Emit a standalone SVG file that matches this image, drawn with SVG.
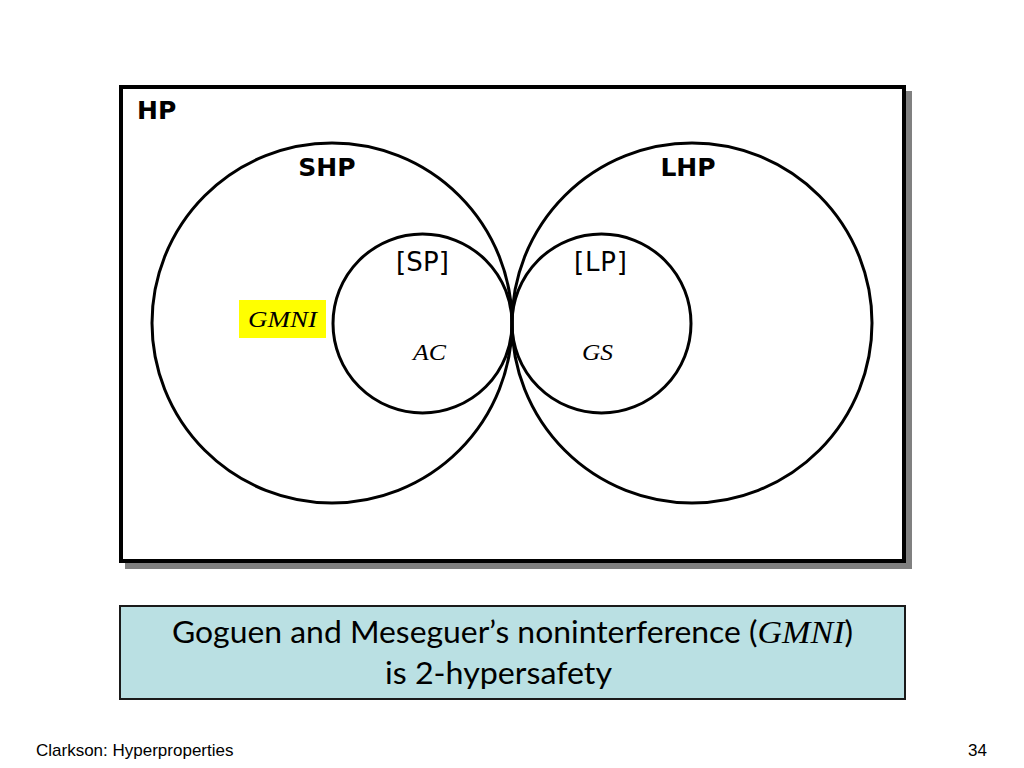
<svg xmlns="http://www.w3.org/2000/svg" width="1024" height="768" viewBox="0 0 1024 768">
<style>
.circ{fill:none;stroke:#000;stroke-width:3}
.bold{font-family:"DejaVu Sans",sans-serif;font-weight:bold;font-size:25px;fill:#000}
.reg{font-family:"DejaVu Sans",sans-serif;font-size:26px;fill:#000}
.math{font-family:"Liberation Serif","DejaVu Serif",serif;font-style:italic;font-size:24px;fill:#000}
.cap{font-family:Lato,"Open Sans",sans-serif;font-size:30px;fill:#000}
.foot{font-family:"Liberation Sans",Arial,sans-serif;font-size:17px;fill:#000}
</style>
<rect width="1024" height="768" fill="#fff"/>
<g id="HP">
<rect x="125" y="91" width="787" height="478" fill="#808080"/>
<rect x="121" y="87" width="783" height="474" fill="#fff" stroke="#000" stroke-width="4"/>
<text class="bold" x="137" y="119">HP</text>
</g>
<g id="SHP">
<circle class="circ" cx="332" cy="323" r="180"/>
<text class="bold" x="327" y="176" text-anchor="middle">SHP</text>
</g>
<g id="LHP">
<circle class="circ" cx="692" cy="323" r="180"/>
<text class="bold" x="688" y="176" text-anchor="middle">LHP</text>
</g>
<g id="SP">
<circle class="circ" cx="422.5" cy="323.5" r="89.5"/>
<text class="reg" x="396" y="271" textLength="53">[SP]</text>
<text class="math" x="413" y="360" textLength="33" lengthAdjust="spacingAndGlyphs">AC</text>
</g>
<g id="LP">
<circle class="circ" cx="601.5" cy="323.5" r="89.5"/>
<text class="reg" x="574" y="271" textLength="53">[LP]</text>
<text class="math" x="582" y="360" textLength="31" lengthAdjust="spacingAndGlyphs">GS</text>
</g>
<g id="GMNI">
<rect x="239" y="300" width="87" height="38" fill="#ffff00"/>
<text class="math" x="248" y="327" textLength="69" lengthAdjust="spacingAndGlyphs">GMNI</text>
</g>
<g id="caption">
<rect x="120" y="606" width="785" height="93" fill="#bae0e3" stroke="#1a1a1a" stroke-width="2"/>
<text class="cap" x="172" y="643" textLength="681" lengthAdjust="spacingAndGlyphs">Goguen and Meseguer’s noninterference (<tspan font-family="Liberation Serif,serif" font-style="italic" font-size="32px">GMNI</tspan>)</text>
<text class="cap" x="385" y="684" textLength="227" lengthAdjust="spacingAndGlyphs">is 2-hypersafety</text>
</g>
<g id="connectors"></g>
<text class="foot" x="36" y="756">Clarkson: Hyperproperties</text>
<text class="foot" x="987" y="756" text-anchor="end">34</text>
</svg>
